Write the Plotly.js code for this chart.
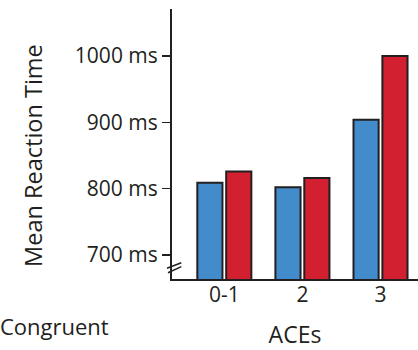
<!DOCTYPE html>
<html>
<head>
<meta charset="utf-8">
<script src="https://cdn.plot.ly/plotly-3.0.1.min.js"></script>
<style>html,body{margin:0;padding:0;background:#fff;}#chart{width:418px;height:350px;}</style>
</head>
<body>
<div id="chart"></div>
<script>
// Data
var categories = ["0-1", "2", "3"];
var congruentRT = [809, 802, 904];
var incongruentRT = [826, 816, 1000];
var seriesNames = ["Congruent", "Incongruent"];
var yTickValues = [700, 800, 900, 1000];
var yTickLabels = ["700 ms", "800 ms", "900 ms", "1000 ms"];
var yTitle = "Mean Reaction Time";
var xTitle = "ACEs";

var FONT = "Open Sans, sans-serif";
var INK = "#231f20";

var traces = [
  {
    type: "bar", name: seriesNames[0], x: categories, y: congruentRT,
    marker: {color: "#438ccb", line: {color: INK, width: 2}}
  },
  {
    type: "bar", name: seriesNames[1], x: categories, y: incongruentRT,
    marker: {color: "#d22030", line: {color: INK, width: 2}}
  }
];

var layout = {
  width: 418, height: 350,
  margin: {l: 172, r: 0, t: 9, b: 71, autoexpand: false},
  paper_bgcolor: "#fff", plot_bgcolor: "#fff",
  font: {family: FONT, size: 21, color: INK},
  barmode: "group", bargap: 0.26, bargroupgap: 0.13,
  showlegend: true,
  legend: {
    orientation: "v", x: -0.862, xanchor: "left", y: -0.098, yanchor: "top",
    font: {family: FONT, size: 22, color: INK},
    bgcolor: "rgba(0,0,0,0)", borderwidth: 0
  },
  xaxis: {
    type: "category", categoryorder: "array", categoryarray: categories,
    range: [-0.67, 2.48],
    showline: true, linecolor: INK, linewidth: 2,
    ticks: "", showgrid: false, zeroline: false,
    tickfont: {family: FONT, size: 21, color: INK},
    ticklabelstandoff: -4,
    title: {text: xTitle, font: {family: FONT, size: 23, color: INK}, standoff: 24}
  },
  yaxis: {
    range: [663.8, 1070.9],
    showline: true, linecolor: INK, linewidth: 2,
    ticks: "outside", ticklen: 8, tickwidth: 1.5, tickcolor: INK,
    tickvals: yTickValues, ticktext: yTickLabels,
    showgrid: false, zeroline: false,
    tickfont: {family: FONT, size: 21, color: INK}
  },
  annotations: [
    {text: yTitle, xref: "paper", yref: "paper", x: -0.565, y: 0.456,
     xanchor: "center", yanchor: "middle", textangle: -90, showarrow: false,
     font: {family: FONT, size: 23.5, color: INK}}
  ],
  shapes: [
    {type: "line", xref: "paper", yref: "paper", x0: -0.0203, y0: 0.0396, x1: 0.0378, y1: 0.0604, line: {color: INK, width: 1.5}},
    {type: "line", xref: "paper", yref: "paper", x0: -0.0163, y0: 0.0233, x1: 0.0378, y1: 0.0456, line: {color: INK, width: 1.5}}
  ]
};

Plotly.newPlot("chart", traces, layout, {displayModeBar: false, staticPlot: true});
</script>
</body>
</html>
